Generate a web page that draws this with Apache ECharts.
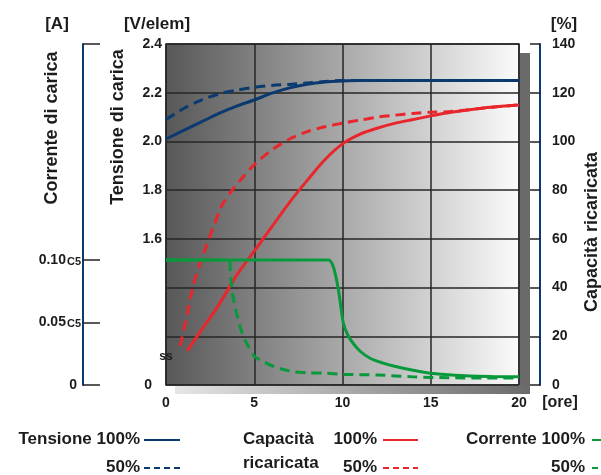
<!DOCTYPE html>
<html><head><meta charset="utf-8">
<script src="https://cdn.jsdelivr.net/npm/echarts@6/dist/echarts.min.js"></script>
<style>html,body{margin:0;padding:0;background:#fff}#c{width:601px;height:475px}</style>
</head><body><div id="c"></div>
<script>
// ---- data (hours, value) ----
const hourTicks = [0, 5, 10, 15, 20];
const voltageLabels = [1.0, 1.6, 1.8, 2.0, 2.2, 2.4];
const currentLabels = [0, 0.05, 0.10];
const percentTicks = [0, 20, 40, 60, 80, 100, 120, 140];

const tensione100 = [[0,2.01],[1,2.045],[2,2.08],[3,2.115],[4,2.145],[5,2.17],[6,2.198],[7,2.22],[8,2.235],[9,2.244],[10,2.248],[11,2.25],[12,2.25],[14,2.25],[16,2.25],[18,2.25],[20,2.25]];
const tensione50 = [[0,2.09],[1,2.135],[2,2.17],[3,2.195],[4,2.21],[5,2.222],[6,2.23],[7,2.234],[8,2.24],[9,2.246],[10,2.25],[12,2.25],[14,2.25],[16,2.25],[18,2.25],[20,2.25]];
const capacita100 = [[1.2,14],[2,22.5],[3,33],[4,45],[5,55],[6,65],[7,75],[8,84],[9,92.5],[10,99],[11,103],[12,105.5],[13,107.5],[14,109],[15,110.5],[16,111.8],[17,112.8],[18,113.7],[19,114.4],[20,115]];
const capacita50 = [[0.8,16],[1.2,29],[1.55,41],[1.93,50],[2.3,57.5],[2.7,65],[3.15,73.5],[3.8,80.5],[4.2,84],[5,90.5],[6,96.5],[7,101],[8,104],[9,106],[10,107.5],[11,108.8],[12,110],[13,110.8],[14,111.5],[15,112],[16,112.2],[17,112.9],[18,113.7],[19,114.4],[20,115]];
const corrente100 = [[0,0.1],[9.2,0.1],[9.48,0.0946],[9.77,0.076],[10.05,0.0494],[10.3,0.04],[10.6,0.0334],[11,0.027],[11.56,0.0214],[12.3,0.0175],[13.07,0.0146],[14,0.0118],[14.96,0.0094],[16,0.0082],[17.2,0.0072],[18.5,0.0068],[20,0.0066]];
const corrente50 = [[0,0.1],[3.55,0.1],[3.65,0.09],[3.75,0.075],[3.95,0.06],[4.1,0.052],[4.3,0.042],[4.57,0.0334],[5.04,0.0226],[5.5,0.019],[5.9,0.016],[6.5,0.013],[7.2,0.0106],[8,0.0098],[9.1,0.0094],[10,0.0085],[12,0.008],[14,0.0065],[16,0.0058],[18,0.0056],[20,0.0056]];

// ---- style ----
const FONT = '"Liberation Sans", Arial, sans-serif';
const TXT = '#1c1c1c';
const NAVY = '#0b3a70';
const RED = '#e8262c';
const GREEN = '#08993c';
const GRIDC = '#262626';
const G = {left:166, top:44, right:519, bottom:385};

const chart = echarts.init(document.getElementById('c'), null, {renderer:'canvas'});
const lab = {fontFamily:FONT, fontWeight:'bold', fontSize:14, color:TXT};

function line(data, axis, color, dashed, z){
  return {type:'line', yAxisIndex:axis, data:data, symbol:'none', showSymbol:false,
    smooth:0.3, z:z, silent:true,
    lineStyle:{color:color, width:3, type: dashed ? [10,6] : 'solid', cap:'butt'}};
}
function gtext(x, y, text, size, align, rot){
  return {type:'text', x:x, y:y, rotation:rot||0, z:100,
    style:{text:text, font:'bold '+size+'px '+FONT, fill:TXT, align:align||'center', verticalAlign:'middle'}};
}
function gline(x1, y1, x2, y2, color, dashed){
  return {type:'line', z:100, shape:{x1:x1,y1:y1,x2:x2,y2:y2},
    style:{stroke:color, lineWidth:2, lineDash: dashed ? [6,4] : null}};
}

const option = {
  animation:false,
  grid:{left:G.left, top:G.top, width:G.right-G.left, height:G.bottom-G.top, show:true,
    borderColor:GRIDC, borderWidth:1.5,
    backgroundColor:{type:'linear', x:0, y:0, x2:1, y2:0,
      colorStops:[{offset:0,color:'#575757'},{offset:1,color:'#fbfbfb'}]}},
  xAxis:{type:'value', min:hourTicks[0], max:hourTicks[hourTicks.length-1], interval:5,
    axisLine:{show:false}, axisTick:{show:false},
    splitLine:{show:true, lineStyle:{color:GRIDC, width:1.5}},
    axisLabel:Object.assign({margin:11}, lab)},
  yAxis:[
    {type:'value', position:'left', min:1.0, max:2.4, interval:0.2,
      axisLine:{show:false}, axisTick:{show:false},
      splitLine:{show:true, lineStyle:{color:GRIDC, width:1.5}},
      axisLabel:Object.assign({margin:4, customValues:voltageLabels,
        formatter:function(v){
          if (Math.abs(v-1.0)<1e-6) return '{z|0}';
          for (const t of voltageLabels) if (Math.abs(v-t)<1e-6) return v.toFixed(1);
          return '';
        },
        rich:{z:{fontFamily:FONT, fontWeight:'bold', fontSize:14, color:TXT, padding:[0,10,0,0]}}}, lab)},
    {type:'value', position:'left', offset:G.left-83, min:0, max:0.2728,
      splitLine:{show:false},
      axisLine:{show:true, lineStyle:{color:NAVY, width:2}},
      axisTick:{show:true, inside:true, length:17, customValues:[0,0.05,0.10,0.2728], lineStyle:{color:'#222', width:1.5}},
      axisLabel:Object.assign({margin:2, customValues:currentLabels,
        formatter:function(v){
          if (Math.abs(v)<1e-9) return '{z|0}';
          for (const t of currentLabels) if (Math.abs(v-t)<1e-6) return '{n|'+v.toFixed(2)+'}{c|C5}';
          return '';
        },
        rich:{
          z:{fontFamily:FONT, fontWeight:'bold', fontSize:14, color:TXT, padding:[0,4,0,0]},
          n:{fontFamily:FONT, fontWeight:'bold', fontSize:14, color:TXT},
          c:{fontFamily:FONT, fontWeight:'bold', fontSize:11, color:TXT, padding:[3,0,0,1]}}}, lab)},
    {type:'value', position:'right', offset:21, min:0, max:140, interval:20,
      splitLine:{show:false},
      axisLine:{show:true, lineStyle:{color:NAVY, width:2}},
      axisTick:{show:true, inside:true, length:10, lineStyle:{color:'#222', width:1.5}},
      axisLabel:Object.assign({margin:12}, lab)}
  ],
  series:[
    line(tensione100, 0, NAVY, false, 3),
    line(tensione50, 0, NAVY, true, 3),
    line(capacita100, 2, RED, false, 4),
    line(capacita50, 2, RED, true, 4),
    line(corrente100, 1, GREEN, false, 5),
    line(corrente50, 1, GREEN, true, 5)
  ],
  graphic:[
    // drop shadows of the plot box
    {type:'rect', z:-10, shape:{x:G.right+1, y:G.top+9, width:10, height:G.bottom-G.top+0}, style:{fill:'#6a6a6a'}},
    {type:'rect', z:-10, shape:{x:G.left+9, y:G.bottom+1, width:G.right-G.left+2, height:8},
      style:{fill:{type:'linear', x:0, y:0, x2:1, y2:0, colorStops:[{offset:0,color:'#e6e6e6'},{offset:1,color:'#6a6a6a'}]}}},
    // axis units and titles
    gtext(57, 24, '[A]', 17),
    gtext(157, 24, '[V/elem]', 17),
    gtext(564, 24, '[%]', 17),
    gtext(560, 403, '[ore]', 16),
    gtext(52, 128, 'Corrente di carica', 18, 'center', Math.PI/2),
    gtext(118, 127, 'Tensione di carica', 18, 'center', Math.PI/2),
    gtext(592, 232, 'Capacità ricaricata', 18, 'center', Math.PI/2),
    gtext(166, 357, 'ss', 12),
    // legend
    gtext(140, 439, 'Tensione 100%', 17, 'right'),
    gtext(140, 467, '50%', 17, 'right'),
    gline(144, 440, 180, 440, NAVY, false),
    gline(144, 468, 180, 468, NAVY, true),
    gtext(243, 439, 'Capacità', 17, 'left'),
    gtext(243, 463, 'ricaricata', 17, 'left'),
    gtext(377, 439, '100%', 17, 'right'),
    gtext(377, 467, '50%', 17, 'right'),
    gline(383, 440, 418, 440, RED, false),
    gline(383, 468, 418, 468, RED, true),
    gtext(585, 439, 'Corrente 100%', 17, 'right'),
    gtext(585, 467, '50%', 17, 'right'),
    gline(592, 440, 612, 440, GREEN, false),
    gline(592, 468, 612, 468, GREEN, true)
  ]
};
chart.setOption(option);
</script>
</body></html>
